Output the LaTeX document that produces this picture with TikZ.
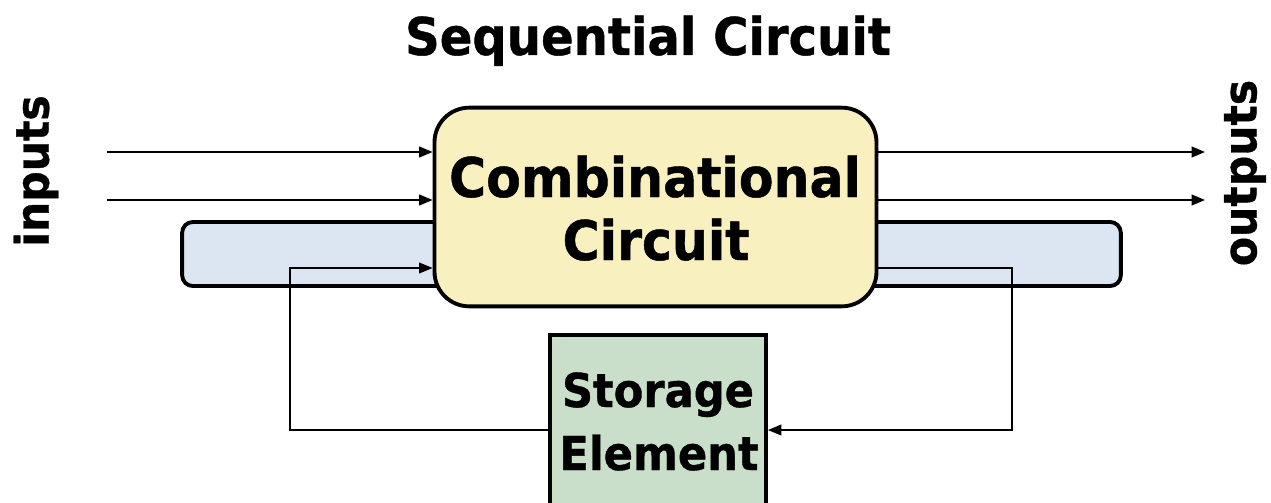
\documentclass[tikz,border=0pt]{standalone}
\usepackage{fontspec}
\setmainfont{DejaVu Sans}
\newfontfamily\lblfont[FakeStretch=0.925, BoldFeatures={FakeBold=0.8}]{DejaVu Sans}
\usetikzlibrary{arrows.meta}
\definecolor{combfill}{RGB}{248,240,190}
\definecolor{busfill}{RGB}{220,230,242}
\definecolor{storefill}{RGB}{201,223,201}
\begin{document}
\begin{tikzpicture}[x=0.75pt,y=-0.75pt,
  block/.style={draw=black, line width=2.9pt, inner sep=0pt},
  combbox/.style={block, fill=combfill, rounded corners=26pt,
    minimum width=331.5pt, minimum height=149pt},
  busbox/.style={block, fill=busfill, rounded corners=8pt,
    minimum width=704pt, minimum height=48pt},
  storebox/.style={block, fill=storefill,
    minimum width=162pt, minimum height=154pt},
  txt/.style={inner sep=0pt, anchor=base, text=black},
  titletxt/.style={txt, font={\lblfont\bfseries\fontsize{39}{47}\selectfont}},
  combtxt/.style={txt, font={\lblfont\bfseries\fontsize{41}{49}\selectfont}},
  storetxt/.style={txt, font={\lblfont\bfseries\fontsize{35}{42}\selectfont}},
  sidetxt/.style={inner sep=0pt, rotate=90,
    font={\lblfont\bfseries\fontsize{34.5}{41}\selectfont}},
  sig/.style={line width=1.3pt, -{Triangle[length=10pt,width=8pt]}},
  fb/.style={line width=1.1pt, -{Triangle[length=10pt,width=8pt]}}]
\useasboundingbox (0,0) rectangle (1271,503);
\clip (0,0) rectangle (1271,503);

% blocks: bus strip behind the combinational block, storage below
\node[busbox] (bus) at (651.5,254) {};
\node[combbox] (comb) at (655.5,207) {};
\node[storebox] (store) at (658,437.5) {};

% labels
\node[titletxt] (title) at (648,55) {Sequential Circuit};
\node[combtxt] (comb1) at (655,197) {Combinational};
\node[combtxt] (comb2) at (656,260) {Circuit};
\node[storetxt] (store1) at (658,407) {Storage};
\node[storetxt] (store2) at (659,470) {Element};
\node[sidetxt] (inputs) at (36,171) {inputs};
\node[sidetxt] (outputs) at (1245,173) {outputs};

% signal end points
\coordinate (in1) at (107,152);
\coordinate (in2) at (107,200);
\coordinate (out1) at (1205,152);
\coordinate (out2) at (1205,200);
\coordinate (fbLb) at (290,430);
\coordinate (fbLt) at (290,268);
\coordinate (fbRt) at (1012,268);
\coordinate (fbRb) at (1012,430);

% inputs and outputs
\draw[sig] (in1) -- (in1 -| comb.west);
\draw[sig] (in2) -- (in2 -| comb.west);
\draw[sig] (out1 -| comb.east) -- (out1);
\draw[sig] (out2 -| comb.east) -- (out2);

% feedback loop through the storage element
\draw[fb] (store.west |- fbLb) -- (fbLb) -- (fbLt) -- (fbLt -| comb.west);
\draw[fb] (fbRt -| comb.east) -- (fbRt) -- (fbRb) -- (fbRb -| store.east);
\end{tikzpicture}
\end{document}
